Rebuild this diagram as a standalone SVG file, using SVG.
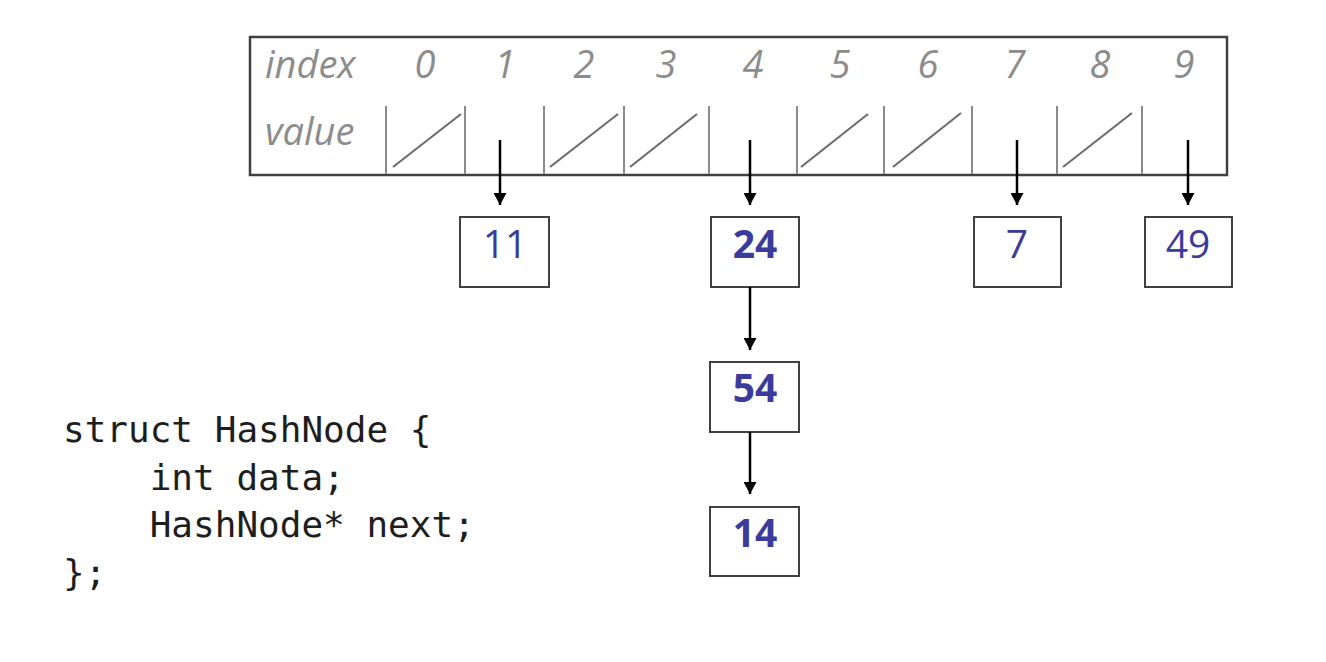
<svg xmlns="http://www.w3.org/2000/svg" width="1326" height="662" viewBox="0 0 1326 662">
  <style>
    .frame { fill: none; stroke: #404040; stroke-width: 2.5; }
    .div { stroke: #8a8a8a; stroke-width: 2; }
    .slash { stroke: #6e6e6e; stroke-width: 2.2; }
    .hdr { font-family: "Open Sans", "Liberation Sans", sans-serif; font-style: italic; font-size: 38px; fill: #8c8c8c; }
    .idx { text-anchor: middle; }
    .box { fill: #ffffff; stroke: #404040; stroke-width: 2; }
    .val { font-family: "Open Sans", "Liberation Sans", sans-serif; font-size: 39px; font-weight: 500; fill: #3b3b9c; text-anchor: middle; }
    .b { font-weight: bold; }
    .link { stroke: #000000; stroke-width: 2.5; fill: none; marker-end: url(#arrow); }
    .code { font-family: "DejaVu Sans Mono", "Liberation Mono", monospace; font-size: 36px; fill: #1e1e1e; white-space: pre; }
  </style>
  <defs>
    <marker id="arrow" viewBox="0 0 12 13" refX="12" refY="6.5" markerWidth="12" markerHeight="13" markerUnits="userSpaceOnUse" orient="auto">
      <path d="M0,0 L12,6.5 L0,13 Z" fill="#000000"/>
    </marker>
  </defs>
  <rect width="1326" height="662" fill="#ffffff"/>

  <!-- hash table: index row and bucket row -->
  <g id="table">
    <rect class="frame" x="250" y="37" width="977" height="138"/>
    <text class="hdr" x="265" y="78">index</text>
    <text class="hdr" x="265" y="145">value</text>
    <g class="hdr idx">
      <text x="425" y="78">0</text>
      <text x="505" y="78">1</text>
      <text x="584" y="78">2</text>
      <text x="666" y="78">3</text>
      <text x="753" y="78">4</text>
      <text x="840" y="78">5</text>
      <text x="928" y="78">6</text>
      <text x="1015" y="78">7</text>
      <text x="1100" y="78">8</text>
      <text x="1184" y="78">9</text>
    </g>
    <g>
      <line class="div" x1="386" y1="106" x2="386" y2="174"/>
      <line class="div" x1="465" y1="106" x2="465" y2="174"/>
      <line class="div" x1="544" y1="106" x2="544" y2="174"/>
      <line class="div" x1="624" y1="106" x2="624" y2="174"/>
      <line class="div" x1="709" y1="106" x2="709" y2="174"/>
      <line class="div" x1="797" y1="106" x2="797" y2="174"/>
      <line class="div" x1="884" y1="106" x2="884" y2="174"/>
      <line class="div" x1="972" y1="106" x2="972" y2="174"/>
      <line class="div" x1="1057" y1="106" x2="1057" y2="174"/>
      <line class="div" x1="1142" y1="106" x2="1142" y2="174"/>
    </g>
    <!-- empty buckets -->
    <g>
      <line class="slash" x1="393" y1="167" x2="461" y2="114"/>
      <line class="slash" x1="550" y1="167" x2="618" y2="114"/>
      <line class="slash" x1="630" y1="167" x2="697" y2="114"/>
      <line class="slash" x1="801" y1="167" x2="868" y2="114"/>
      <line class="slash" x1="893" y1="167" x2="961" y2="113"/>
      <line class="slash" x1="1063" y1="167" x2="1132" y2="113"/>
    </g>
  </g>

  <!-- list nodes -->
  <g id="node-11">
    <rect class="box" x="460" y="217" width="89" height="70"/>
    <text class="val" x="505" y="258">11</text>
  </g>
  <g id="node-24">
    <rect class="box" x="711" y="217" width="88" height="70"/>
    <text class="val b" x="755" y="258">24</text>
  </g>
  <g id="node-7">
    <rect class="box" x="974" y="217" width="87" height="70"/>
    <text class="val" x="1017" y="258">7</text>
  </g>
  <g id="node-49">
    <rect class="box" x="1145" y="217" width="87" height="70"/>
    <text class="val" x="1188" y="258">49</text>
  </g>
  <g id="node-54">
    <rect class="box" x="710" y="362" width="89" height="70"/>
    <text class="val b" x="755" y="402">54</text>
  </g>
  <g id="node-14">
    <rect class="box" x="710" y="507" width="89" height="69"/>
    <text class="val b" x="755" y="547">14</text>
  </g>

  <!-- pointers -->
  <g id="connectors">
    <line class="link" x1="500" y1="140" x2="500" y2="205"/>
    <line class="link" x1="750" y1="140" x2="750" y2="205"/>
    <line class="link" x1="1017" y1="140" x2="1017" y2="205"/>
    <line class="link" x1="1188" y1="140" x2="1188" y2="205"/>
    <line class="link" x1="750" y1="287" x2="750" y2="350"/>
    <line class="link" x1="750" y1="432" x2="750" y2="494"/>
  </g>

  <!-- node declaration -->
  <g id="code">
    <text class="code" x="63" y="442">struct HashNode {</text>
    <text class="code" x="63" y="490">    int data;</text>
    <text class="code" x="63" y="537">    HashNode* next;</text>
    <text class="code" x="63" y="585">};</text>
  </g>
</svg>
